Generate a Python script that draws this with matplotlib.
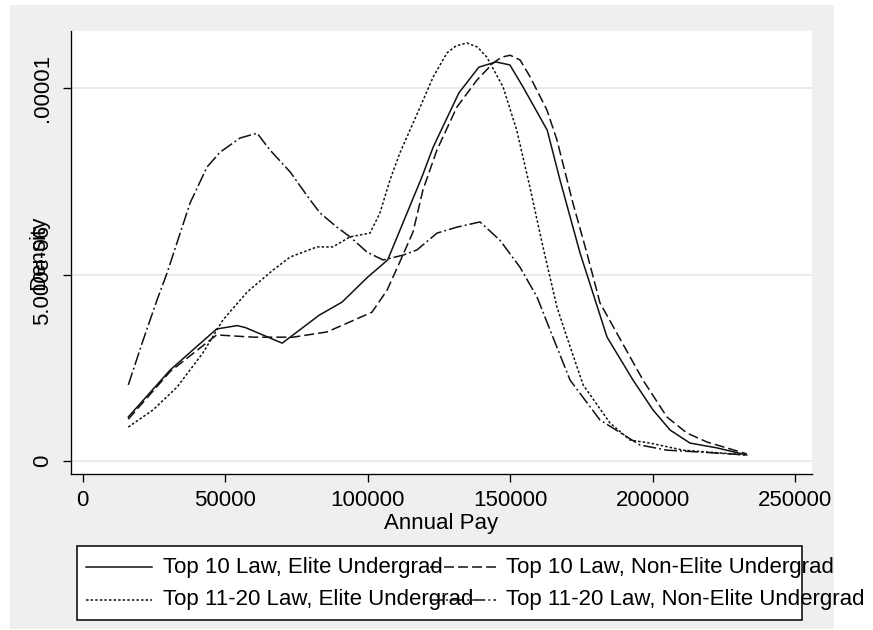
"""Kernel density of annual pay by law school tier and undergrad type."""
import numpy as np
import matplotlib

matplotlib.use("Agg")
import matplotlib.pyplot as plt  # noqa: E402
from matplotlib.lines import Line2D  # noqa: E402
from matplotlib.patches import Rectangle  # noqa: E402

# --- data (density values in units of 1e-6) ---
pay_t10_elite = [16000, 30700, 47000, 54200, 57000, 70000, 83000, 91000, 100000,
                 107000, 119000, 123000, 132000, 139000, 145000, 149900, 154500, 163000,
                 167500, 174500, 184000, 193100, 200100, 206100, 213100, 222600, 233000]
dens_t10_elite = [1.18, 2.44, 3.54, 3.63, 3.58, 3.16, 3.91, 4.26, 4.93,
                  5.39, 7.61, 8.42, 9.87, 10.56, 10.70, 10.62, 10.03, 8.87,
                  7.53, 5.58, 3.32, 2.17, 1.37, 0.83, 0.48, 0.35, 0.16]

pay_t10_nonelite = [16000, 30700, 47000, 60000, 73800, 85700, 93800, 101500, 106800,
                    111300, 115900, 119400, 124300, 131300, 138300, 144000, 147000,
                    150000, 153500, 157000, 162900, 166400, 172000, 176900, 181500,
                    196600, 205000, 212000, 219000, 233000]
dens_t10_nonelite = [1.12, 2.40, 3.38, 3.32, 3.32, 3.46, 3.73, 3.99, 4.58,
                     5.34, 6.14, 7.27, 8.34, 9.49, 10.21, 10.67, 10.83,
                     10.88, 10.75, 10.30, 9.41, 8.61, 6.92, 5.58, 4.24,
                     2.17, 1.18, 0.75, 0.51, 0.19]

pay_t20_elite = [16000, 24700, 33100, 42200, 49200, 57700, 66800, 72800, 82200, 87800,
                 93800, 100800, 104300, 107800, 111300, 118400, 123000, 127800, 131000,
                 134800, 138500, 141800, 147500, 152300, 156900, 161500, 166400, 169900,
                 175600, 185000, 192100, 199100, 210700, 233000]
dens_t20_elite = [0.91, 1.37, 1.98, 2.90, 3.78, 4.53, 5.12, 5.47, 5.74, 5.74,
                  6.01, 6.11, 6.65, 7.53, 8.26, 9.49, 10.30, 10.94, 11.13,
                  11.21, 11.10, 10.83, 10.03, 8.87, 7.35, 5.74, 4.13, 3.32,
                  2.04, 1.02, 0.56, 0.48, 0.29, 0.16]

pay_t20_nonelite = [16000, 21200, 26100, 29600, 34200, 37700, 43600, 48200, 55200, 61200,
                    65700, 72800, 79800, 83300, 89200, 93800, 99800, 105400, 112400,
                    117300, 124300, 131300, 139400, 146400, 153400, 159400, 165000,
                    171000, 181500, 195500, 205000, 216600, 233000]
dens_t20_nonelite = [2.04, 3.24, 4.32, 5.04, 6.11, 6.92, 7.88, 8.28, 8.66, 8.79,
                     8.34, 7.75, 7.00, 6.65, 6.27, 6.01, 5.60, 5.39, 5.52,
                     5.66, 6.11, 6.27, 6.41, 5.92, 5.20, 4.40, 3.32,
                     2.17, 1.10, 0.43, 0.29, 0.24, 0.16]

labels = ["Top 10 Law, Elite Undergrad", "Top 10 Law, Non-Elite Undergrad",
          "Top 11-20 Law, Elite Undergrad", "Top 11-20 Law, Non-Elite Undergrad"]
x_ticks = [0, 50000, 100000, 150000, 200000, 250000]
y_ticks = [0, 5e-6, 1e-5]
y_tick_labels = ["0", "5.000e-06", ".00001"]

W, H = 873, 630
plt.rcParams["font.family"] = ["Liberation Sans", "DejaVu Sans"]
plt.rcParams["lines.scale_dashes"] = False

LINE = "#111111"
LW = 1.1
styles = [
    dict(linestyle="-"),
    dict(linestyle=(0, (7.2, 2.9))),
    dict(linestyle=(0, (1.8, 1.5))),
    dict(linestyle=(0, (9.4, 2.2, 1.4, 2.2))),
]


def fx(px):
    return px / W


def fy(py):
    return 1 - py / H


fig = plt.figure(figsize=(W / 100, H / 100), dpi=100)
fig.patch.set_facecolor("white")
fig.patches.append(Rectangle((fx(10), fy(629)), fx(834) - fx(10), fy(5) - fy(629),
                             transform=fig.transFigure, facecolor="#efefef",
                             edgecolor="none", zorder=-10))

ax = fig.add_axes([fx(71), fy(474), fx(812) - fx(71), fy(31) - fy(474)])
ax.set_facecolor("white")

series = [
    (pay_t10_elite, dens_t10_elite),
    (pay_t10_nonelite, dens_t10_nonelite),
    (pay_t20_elite, dens_t20_elite),
    (pay_t20_nonelite, dens_t20_nonelite),
]
for (xs, ys), st, lab in zip(series, styles, labels):
    ax.plot(xs, np.array(ys) * 1e-6, color=LINE, linewidth=LW, label=lab,
            solid_joinstyle="round", dash_joinstyle="round", **st)

ax.set_xlim(-4100, 255900)
ax.set_ylim(-0.349e-6, 11.53e-6)
ax.set_xticks(x_ticks)
ax.set_xticklabels([str(t) for t in x_ticks])
ax.set_yticks(y_ticks)
ax.set_yticklabels(y_tick_labels, rotation=90, va="center")
ax.grid(axis="y", color="#e6e6e6", linewidth=1.1)
ax.set_axisbelow(True)

for side in ("top", "right"):
    ax.spines[side].set_visible(False)
for side in ("left", "bottom"):
    ax.spines[side].set_linewidth(0.95)
    ax.spines[side].set_color("black")

ax.tick_params(axis="both", direction="out", length=5.8, width=0.95, labelsize=16)
ax.tick_params(axis="x", pad=5.8)
ax.tick_params(axis="y", pad=7.2)

ax.set_xlabel("Annual Pay", fontsize=16)
ax.xaxis.set_label_coords(0.5, (474 - 513) / 443)
ax.set_ylabel("Density", fontsize=16)
ax.yaxis.set_label_coords((49 - 71) / 741, 0.5)

# legend drawn by hand to keep Stata's overlapping layout
fig.patches.append(Rectangle((fx(77), fy(620)), fx(802) - fx(77), fy(546) - fy(620),
                             transform=fig.transFigure, facecolor="white",
                             edgecolor="black", linewidth=1.1, zorder=5))
rows = [567, 600]
cols = [(86, 152, 163), (430, 496, 506)]
for i, (lab, st) in enumerate(zip(labels, styles)):
    r, c = divmod(i, 2)
    h0, h1, tx = cols[c]
    fig.add_artist(Line2D([fx(h0), fx(h1)], [fy(rows[r]), fy(rows[r])],
                          transform=fig.transFigure, color=LINE, linewidth=LW,
                          zorder=6, **st))
    fig.text(fx(tx), fy(rows[r]), lab, fontsize=16, ha="left", va="center",
             zorder=7)

fig.savefig("out.png", dpi=100)
plt.close(fig)
